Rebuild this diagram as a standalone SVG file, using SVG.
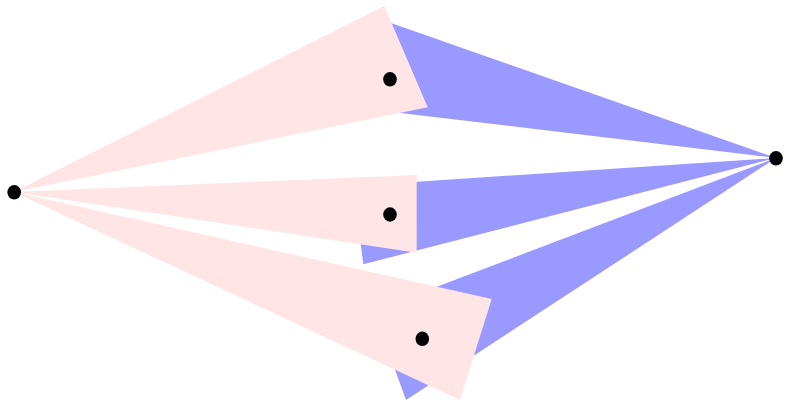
<svg xmlns="http://www.w3.org/2000/svg" width="785" height="404" viewBox="0 0 785 404">
<style>
.blue{fill:#9999ff;stroke:none}
.pink{fill:#ffe5e5;stroke:none}
.dot{fill:#000}
</style>
<rect width="785" height="404" fill="#fff"/>
<g id="connectors">
<polygon class="blue" points="776,158 386,21.3 392,111.9"/>
<polygon class="blue" points="776,158 353.4,185.9 363.3,264.3"/>
<polygon class="blue" points="776,158 373.5,310.7 406,400"/>
<polygon class="pink" points="14,192 384.3,6 427.7,107.3"/>
<polygon class="pink" points="14,192 416.7,175 416.7,252.7"/>
<polygon class="pink" points="14,192 491.7,299 460,400"/>
</g>
<g id="left"><ellipse class="dot" cx="14.2" cy="192.3" rx="6.8" ry="7.2"/></g>
<g id="right"><ellipse class="dot" cx="776" cy="158.3" rx="6.8" ry="7.2"/></g>
<g id="top"><ellipse class="dot" cx="390" cy="79.3" rx="6.8" ry="7.2"/></g>
<g id="middle"><ellipse class="dot" cx="390" cy="214.5" rx="6.8" ry="7.2"/></g>
<g id="bottom"><ellipse class="dot" cx="422.3" cy="338.8" rx="6.8" ry="7.2"/></g>
</svg>
